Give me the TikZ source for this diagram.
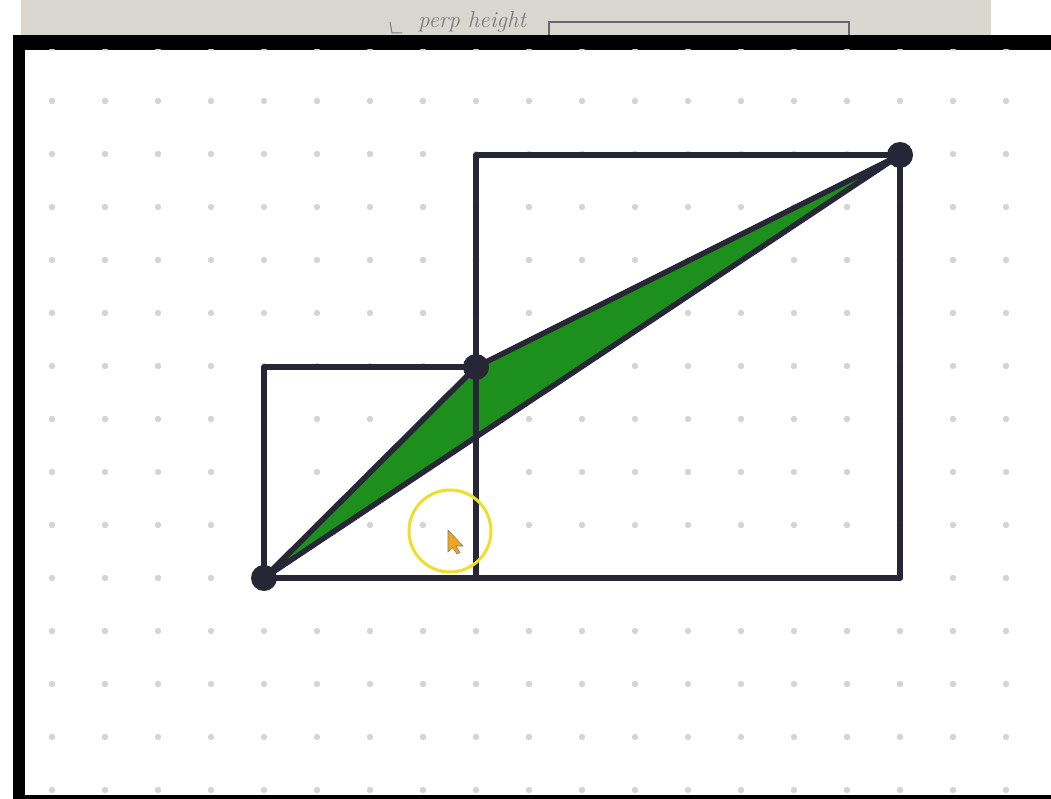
\documentclass[tikz,border=0pt]{standalone}
\usepackage{fontspec}
\begin{document}
\begin{tikzpicture}[x=1pt,y=-1pt,
  edge/.style={draw=inkc,line width=5.5pt,line cap=round,line join=round},
  vtx/.style={circle,fill=inkc,inner sep=0pt,minimum size=26pt},
  griddot/.style={fill=dotc},
]
\definecolor{inkc}{HTML}{262636}
\definecolor{dotc}{HTML}{D4D4D4}
\definecolor{greenc}{HTML}{1C8F1C}
\definecolor{paperc}{HTML}{DAD7D0}
\definecolor{penc}{HTML}{7A7A80}
\definecolor{yelc}{HTML}{EEE02A}
\definecolor{curc}{HTML}{F2A516}
\useasboundingbox (0,0) rectangle (1051,799);
\fill[white] (0,0) rectangle (1051,799);
% paper photo strip
\fill[paperc] (21,0) rectangle (991,36);
\node[text=penc,font=\itshape\fontsize{23}{23}\selectfont,anchor=base west,inner sep=0pt] (ph) at (418,28) {perp height};
\draw[penc,line width=1pt] (390,22) -- (392,33) -- (402,33);
\draw[inkc!70,line width=1.2pt] (549,36) -- (549,22) -- (849,22) -- (849,36);
% black frame
\fill[black] (13,35) rectangle (1051,799);
\fill[white] (25,50) rectangle (1051,795);
% dot grid
\begin{scope}
\clip (25,50) rectangle (1051,795);
\foreach \i in {0,...,18} {
  \foreach \j in {0,...,14} {
    \fill[griddot] (52+53*\i,48+53*\j) circle (3.2);
  }
}
\end{scope}
% points
\coordinate (A) at (264,578);
\coordinate (B) at (476,367);
\coordinate (C) at (900,155);
\coordinate (Aup) at (264,367);
\coordinate (Bdn) at (476,578);
\coordinate (Bup) at (476,155);
\coordinate (Cdn) at (900,578);
% green triangle
\fill[greenc] (A) -- (B) -- (C) -- cycle;
% rectangles
\draw[edge] (A) -- (Aup) -- (B) -- (Bdn) -- cycle;
\draw[edge] (Bdn) -- (Bup) -- (C) -- (Cdn) -- cycle;
% triangle sides
\draw[edge] (A) -- (B) -- (C) -- cycle;
% vertex dots
\node[vtx] (a) at (A) {};
\node[vtx] (b) at (B) {};
\node[vtx] (c) at (C) {};
% cursor highlight
\draw[yelc,line width=3pt] (450,531) circle (41);
\draw[inkc!60,line width=0.6pt,fill=curc] (448,530) -- (448,552) -- (452.5,547.5) -- (457,554) -- (460,552.5) -- (456,546) -- (463,546) -- cycle;
\end{tikzpicture}
\end{document}
